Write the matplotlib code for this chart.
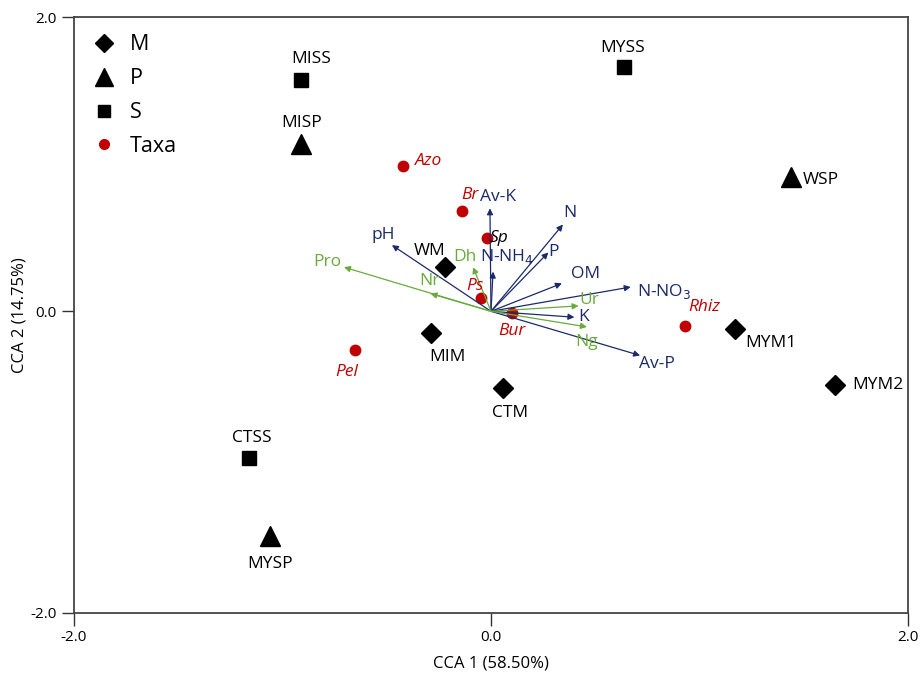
import matplotlib
matplotlib.use("Agg")
import matplotlib.pyplot as plt
from matplotlib.lines import Line2D

plt.rcParams['font.family'] = ['Open Sans', 'DejaVu Sans']

NAVY = "#1b2a6b"
GREEN = "#6aaa3f"
RED = "#c00000"

# sites (CCA scores)
m_names = ['WM', 'MIM', 'CTM', 'MYM1', 'MYM2']
m_x = [-0.22, -0.29, 0.06, 1.17, 1.65]
m_y = [0.30, -0.15, -0.52, -0.12, -0.50]

p_names = ['MISP', 'WSP', 'MYSP']
p_x = [-0.91, 1.44, -1.06]
p_y = [1.14, 0.91, -1.53]

s_names = ['MISS', 'MYSS', 'CTSS']
s_x = [-0.91, 0.64, -1.16]
s_y = [1.57, 1.66, -1.00]

taxa_names = ['Azo', 'Br', 'Sp', 'Ps', 'Bur', 'Rhiz', 'Pel']
taxa_x = [-0.42, -0.14, -0.02, -0.05, 0.10, 0.93, -0.65]
taxa_y = [0.99, 0.68, 0.50, 0.09, -0.01, -0.10, -0.26]

# environmental / enzyme vectors
env_names = ['pH', 'Av-K', 'N-NH$_4$', 'N', 'P', 'OM', 'N-NO$_3$', 'K', 'Av-P']
env_x = [-0.475, -0.005, 0.01, 0.345, 0.275, 0.34, 0.67, 0.40, 0.715]
env_y = [0.45, 0.70, 0.27, 0.59, 0.40, 0.19, 0.165, -0.04, -0.30]

enz_names = ['Pro', 'Nr', 'Dh', 'Ur', 'Ng']
enz_x = [-0.705, -0.29, -0.086, 0.42, 0.46]
enz_y = [0.30, 0.12, 0.30, 0.037, -0.106]

fig = plt.figure(figsize=(9.21, 6.73), dpi=100)
ax = fig.add_axes([0.0803, 0.0892, 0.9056, 0.8855])
ax.set_xlim(-2.0, 2.0)
ymin = -2.05
ax.set_ylim(ymin, 2.0)

FS = 12.5

# arrows
for nm, x, y in zip(env_names, env_x, env_y):
    ax.annotate('', xy=(x, y), xytext=(0, 0),
                arrowprops=dict(arrowstyle='-|>', color=NAVY, lw=0.9,
                                mutation_scale=9, shrinkA=0, shrinkB=0))
for nm, x, y in zip(enz_names, enz_x, enz_y):
    ax.annotate('', xy=(x, y), xytext=(0, 0),
                arrowprops=dict(arrowstyle='-|>', color=GREEN, lw=0.9,
                                mutation_scale=9, shrinkA=0, shrinkB=0))

# arrow labels (offsets in points)
env_off = {'pH': (-6, 7), 'Av-K': (6, 8), 'N-NH$_4$': (10, 11), 'N': (5, 8),
           'P': (4, 0), 'OM': (17, 7), 'N-NO$_3$': (24, -3), 'K': (7, 0),
           'Av-P': (12, -6)}
for nm, x, y in zip(env_names, env_x, env_y):
    dx, dy = env_off[nm]
    ax.annotate(nm, (x, y), xytext=(dx, dy), textcoords='offset points',
                ha='center', va='center', color=NAVY, fontsize=FS)

enz_off = {'Pro': (-12, 4), 'Nr': (-1, 9), 'Dh': (-6, 7), 'Ur': (8, 4),
           'Ng': (0, -11)}
for nm, x, y in zip(enz_names, enz_x, enz_y):
    dx, dy = enz_off[nm]
    ax.annotate(nm, (x, y), xytext=(dx, dy), textcoords='offset points',
                ha='center', va='center', color=GREEN, fontsize=FS)

# sites
ax.plot(m_x, m_y, 'D', color='black', ms=10, ls='none')
ax.plot(p_x, p_y, '^', color='black', ms=14, ls='none')
ax.plot(s_x, s_y, 's', color='black', ms=10, ls='none')
ax.plot(taxa_x, taxa_y, 'o', color=RED, ms=7.5, ls='none')

site_off = {'WM': (-11, 12), 'MIM': (12, -17), 'CTM': (5, -18),
            'MYM1': (26, -10), 'MYM2': (31, 0), 'MISP': (0, 15),
            'WSP': (21, -2), 'MYSP': (0, -20), 'MISS': (7, 15),
            'MYSS': (-1, 14), 'CTSS': (2, 15)}
for names, xs, ys in [(m_names, m_x, m_y), (p_names, p_x, p_y), (s_names, s_x, s_y)]:
    for nm, x, y in zip(names, xs, ys):
        dx, dy = site_off[nm]
        ax.annotate(nm, (x, y), xytext=(dx, dy), textcoords='offset points',
                    ha='center', va='center', color='black', fontsize=FS)

taxa_off = {'Azo': (18, 3), 'Br': (6, 12), 'Sp': (9, 0), 'Ps': (-4, 9),
            'Bur': (0, -13), 'Rhiz': (14, 14), 'Pel': (-6, -16)}
for nm, x, y in zip(taxa_names, taxa_x, taxa_y):
    dx, dy = taxa_off[nm]
    ax.annotate(nm, (x, y), xytext=(dx, dy), textcoords='offset points',
                ha='center', va='center', fontsize=FS, style='italic',
                color='black' if nm == 'Sp' else RED)

# legend
handles = [
    Line2D([], [], marker='D', color='black', ls='none', ms=9, label='M'),
    Line2D([], [], marker='^', color='black', ls='none', ms=13, label='P'),
    Line2D([], [], marker='s', color='black', ls='none', ms=8, label='S'),
    Line2D([], [], marker='o', color=RED, ls='none', ms=7, label='Taxa'),
]
ax.legend(handles=handles, loc='upper left', frameon=False, fontsize=15.5,
          handlelength=1.2, handletextpad=0.6, labelspacing=0.6,
          borderaxespad=0.4, bbox_to_anchor=(0.0, 1.0))

# axes styling
ax.set_xticks([-2.0, 0.0, 2.0])
ax.set_xticklabels(['-2.0', '0.0', '2.0'])
ax.set_yticks([ymin, 0.0, 2.0])
ax.set_yticklabels(['-2.0', '0.0', '2.0'])
ax.tick_params(direction='out', length=9, width=1, labelsize=11, color='#333333')
for sp in ax.spines.values():
    sp.set_color('#444444')
    sp.set_linewidth(1.3)
ax.set_xlabel('CCA 1 (58.50%)', fontsize=12, labelpad=7)
ax.set_ylabel('CCA 2 (14.75%)', fontsize=12, labelpad=2)

fig.savefig('out.png', dpi=100)
